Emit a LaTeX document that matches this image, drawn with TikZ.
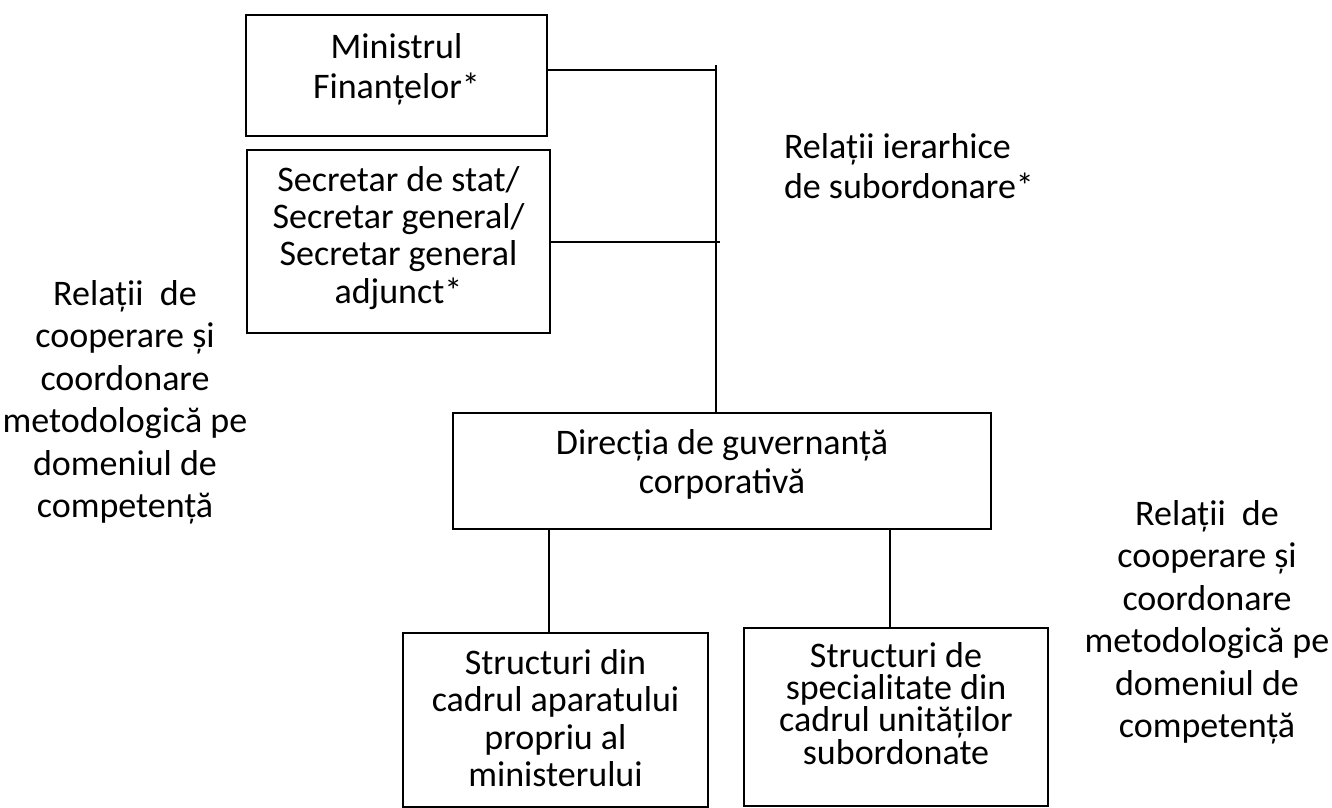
\documentclass[tikz,border=0pt]{standalone}
\usepackage{fontspec}
\setmainfont{Carlito}
\usetikzlibrary{positioning}

\begin{document}
\begin{tikzpicture}[x=0.3pt,y=-0.3pt,line width=0.6pt,
  box/.style={draw,align=center,anchor=north,inner xsep=0pt,
              font=\fontsize{10.8}{11.7}\selectfont},
  note/.style={inner sep=0pt,font=\fontsize{10.8}{12.75}\selectfont}]
\useasboundingbox (0,0) rectangle (1332,807);
% boxes
\node[box,minimum width=90.3pt,inner ysep=5.4pt,text depth=6pt,
      font=\fontsize{10.8}{12}\selectfont] (M) at (396.5,14)
  {Ministrul\\Finanțelor*};
\node[box,minimum width=90.9pt,inner ysep=4.8pt,text depth=4.2pt,
      font=\fontsize{10.8}{11.2}\selectfont] (S) at (398.5,149)
  {Secretar de stat/\\Secretar general/\\Secretar general\\adjunct*};
\node[box,minimum width=161.4pt,inner ysep=4.8pt,text depth=6pt] (D) at (722,412)
  {Direcția de guvernanță\\corporativă};
\node[box,minimum width=91.5pt,inner ysep=4.8pt,text depth=1.35pt,
      font=\fontsize{10.8}{11.25}\selectfont] (L) at (555.5,632)
  {Structuri din\\cadrul aparatului\\propriu al\\ministerului};
\node[box,minimum width=91.2pt,inner ysep=4.2pt,text depth=8.4pt,
      font=\fontsize{10.8}{9.7}\selectfont] (R) at (896,627)
  {Structuri de\\specialitate din\\cadrul unităților\\subordonate};
% connectors
\coordinate (top) at (716,65);
\draw (top) -- (top |- D.north);
\draw (M.east |- 0,70) -- (top |- 0,70);
\draw (S.east) -- ([xshift=1.2pt]top |- S.east);
\draw ([xshift=-1.95pt]L.north |- D.south) -- ([xshift=-1.95pt]L.north);
\draw ([xshift=-1.8pt]R.north |- D.south) -- ([xshift=-1.8pt]R.north);
% labels
\node[note,anchor=north west,align=left,font=\fontsize{10.8}{12}\selectfont]
  (ier) at (783,132) {Relații ierarhice\\de subordonare*};
\node[note,anchor=north,align=center] (coopL) at (125,279)
  {Relații\ \ de\\cooperare și\\coordonare\\metodologică pe\\domeniul de\\competență};
\node[note,anchor=north,align=center] (coopR) at (1207,499)
  {Relații\ \ de\\cooperare și\\coordonare\\metodologică pe\\domeniul de\\competență};
\end{tikzpicture}
\end{document}
